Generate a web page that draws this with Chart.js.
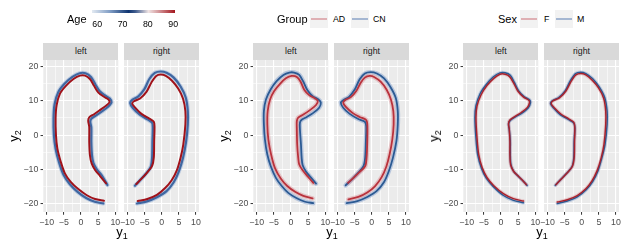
<!DOCTYPE html>
<html>
<head>
<meta charset="utf-8">
<script src="https://cdn.jsdelivr.net/npm/chart.js@4.4.1/dist/chart.umd.min.js"></script>
<style>
  body { margin: 0; background: #fff; font-family: "Liberation Sans", Arial, sans-serif; }
  #wrap { position: relative; width: 630px; height: 245px; overflow: hidden; }
  canvas { position: absolute; }
  .strip { position: absolute; top: 43px; height: 17px; background: #d9d9d9; color: #1a1a1a;
           font-size: 8.8px; line-height: 17px; text-align: center; }
  .ttl { position: absolute; font-size: 11px; line-height: 12px; color: #000; white-space: nowrap; }
  .ax { font-size: 13px; line-height: 14px; }
  .ax sub { font-size: 9px; vertical-align: -3px; line-height: 0; }
  .lab { position: absolute; font-size: 8.8px; line-height: 10px; color: #000; white-space: nowrap; }
  .key { position: absolute; top: 10px; width: 18px; height: 18px; background: #f2f2f2; }
  .key i { position: absolute; left: 1px; right: 1px; top: 8px; height: 2px; }
  .bar { position: absolute; left: 91.7px; top: 10.3px; width: 83.3px; height: 3.2px;
         background: linear-gradient(to right, #e3eaf2 0%, #7f9cc4 22%, #0e3470 44%, #3d5a8c 52%, #efe3e3 68%, #d59a9d 80%, #a3161d 100%); }
</style>
</head>
<body>
<div id="wrap"></div>
<script>
// axis ranges and ticks
const xMin = -10.99, xMax = 10.87;
const yMin = -22.5, yMax = 21.96;
const xTicks = [-10, -5, 0, 5, 10];
const xMinor = [-7.5, -2.5, 2.5, 7.5];
const yTicks = [-20, -10, 0, 10, 20];
const yMinor = [-15, -5, 5, 15];
const facets = ["left", "right"];
const ageTicks = [60, 70, 80, 90];

// Age panel: youngest (outer, blue) and oldest (inner, red) shapes
const ageYoungLeft = [[6.5,-20.0],[4.0,-19.5],[1.5,-18.4],[-1.0,-16.6],[-3.3,-14.3],[-5.1,-11.6],[-6.4,-8.0],[-7.4,-4.0],[-7.9,0],[-8.0,4.9],[-7.7,9.0],[-6.6,12.6],[-4.8,15.0],[-2.5,17.0],[-0.4,18.1],[1.3,18.1],[2.9,17.0],[4.2,14.8],[5.4,12.9],[7.0,11.6],[8.4,10.7],[8.9,9.6],[7.8,8.2],[5.9,6.8],[4.3,5.7],[3.0,4.8],[2.7,3.9],[3.0,2.2],[3.0,-2.0],[3.2,-5.9],[3.6,-8.1],[4.6,-10.0],[6.0,-11.7],[7.7,-14.6]];
const ageOldLeft = [[6.7,-19.2],[4.1,-18.7],[1.7,-17.6],[-0.8,-15.8],[-3.0,-13.7],[-4.7,-11.2],[-5.9,-7.8],[-6.9,-3.9],[-7.3,0],[-7.4,4.9],[-7.1,8.8],[-6.1,12.2],[-4.4,14.4],[-2.2,16.4],[-0.3,17.4],[1.2,17.4],[2.6,16.4],[3.8,14.4],[5.0,12.5],[6.7,11.2],[8.0,10.4],[8.3,9.6],[7.3,8.6],[5.5,7.3],[3.8,6.1],[2.4,5.2],[2.1,4.2],[2.4,2.4],[2.4,-2.0],[2.6,-5.9],[3.1,-8.3],[4.1,-10.2],[5.5,-11.9],[7.3,-14.1]];
const ageYoungRight = [[-7.2,-20.0],[-4.3,-19.4],[-1.4,-18.2],[1.4,-16.4],[3.5,-13.8],[5.0,-10.6],[6.2,-6.7],[7.1,-2.0],[7.6,3.1],[7.6,7.1],[7.0,11.0],[5.5,14.2],[3.5,16.8],[1.4,18.2],[-0.3,18.6],[-2.0,18.2],[-3.6,16.4],[-5.0,13.5],[-6.8,11.3],[-8.6,10.3],[-9.2,9.4],[-8.4,7.9],[-6.4,6.0],[-4.0,4.5],[-2.8,3.6],[-2.6,2.2],[-2.7,-1.8],[-2.8,-6.6],[-3.2,-9.3],[-4.6,-11.3],[-6.4,-13.3],[-7.8,-14.8]];
const ageOldRight = [[-7.0,-19.3],[-4.2,-18.7],[-1.4,-17.5],[1.0,-15.5],[2.9,-13.2],[4.4,-10.3],[5.5,-6.6],[6.3,-2.7],[6.9,3.1],[6.9,7.0],[6.2,10.7],[4.8,13.6],[3.0,15.9],[1.2,17.3],[-0.3,17.7],[-1.6,17.3],[-3.0,15.4],[-4.4,12.7],[-6.3,10.7],[-8.1,9.9],[-8.6,9.2],[-7.8,8.1],[-5.9,6.2],[-3.6,4.8],[-2.3,3.9],[-2.1,2.4],[-2.2,-1.8],[-2.3,-6.5],[-2.8,-9.0],[-4.2,-10.9],[-6.0,-12.9],[-7.4,-14.3]];

// Group panel
const cnLeft = [[6.5,-19.9],[4.1,-19.5],[1.7,-18.5],[-0.8,-16.9],[-2.7,-14.9],[-4.4,-12.5],[-5.9,-9.1],[-6.9,-5.7],[-7.6,-1.3],[-7.9,3.1],[-7.9,7.0],[-7.3,10.4],[-5.9,13.4],[-4.2,15.8],[-2.2,17.6],[-0.5,18.3],[0.9,18.3],[2.4,17.6],[3.6,15.6],[4.8,13.1],[6.3,11.4],[8.0,10.4],[8.7,9.5],[8.2,8.0],[6.5,6.5],[4.6,5.3],[3.1,4.5],[2.6,3.6],[2.6,1.7],[2.9,-2.7],[3.1,-6.6],[3.4,-8.8],[4.4,-10.7],[5.7,-12.3],[7.3,-14.2]];
const adLeft = [[6.3,-18.5],[3.6,-17.8],[1.2,-16.6],[-1.1,-14.9],[-3.0,-12.7],[-4.7,-9.6],[-5.8,-5.7],[-6.6,-1.3],[-6.9,3.1],[-6.8,7.0],[-6.1,10.4],[-4.9,12.9],[-3.2,15.0],[-1.5,16.6],[0.2,17.3],[1.7,17.0],[2.8,15.6],[3.9,13.2],[5.3,11.7],[7.0,10.7],[7.8,10.0],[7.3,8.8],[5.5,7.3],[3.6,6.0],[2.1,5.1],[1.7,4.1],[1.7,1.7],[1.8,-2.7],[2.1,-6.6],[2.4,-8.6],[3.4,-10.3],[4.8,-12.0],[6.5,-14.0]];
const cnRight = [[-7.3,-19.9],[-4.2,-19.3],[-1.3,-18.1],[1.4,-16.4],[3.6,-13.7],[5.0,-10.5],[6.2,-6.6],[7.2,-1.8],[7.6,3.1],[7.6,7.0],[7.0,10.9],[5.5,14.0],[3.6,16.6],[1.5,18.0],[-0.3,18.4],[-2.0,18.0],[-3.5,16.3],[-4.9,13.4],[-6.6,11.2],[-8.3,10.2],[-9.0,9.5],[-8.3,8.0],[-6.4,6.2],[-3.9,4.7],[-2.0,3.9],[-1.6,2.6],[-1.7,-1.8],[-1.9,-6.6],[-2.4,-9.1],[-3.9,-11.0],[-5.8,-13.0],[-7.6,-14.7]];
const adRight = [[-6.8,-18.8],[-3.9,-18.1],[-1.3,-16.8],[1.0,-14.9],[2.9,-12.3],[4.3,-9.1],[5.2,-5.7],[6.0,-1.3],[6.4,3.1],[6.3,7.0],[5.6,10.4],[4.4,13.2],[2.6,15.6],[0.7,17.0],[-0.6,17.3],[-2.0,16.8],[-3.2,15.3],[-4.5,12.9],[-6.1,11.1],[-7.8,10.2],[-8.3,9.5],[-7.6,8.3],[-5.6,6.5],[-3.5,5.3],[-1.7,4.5],[-1.3,3.4],[-1.3,-1.8],[-1.5,-6.6],[-1.9,-9.1],[-3.4,-10.7],[-5.3,-12.5],[-6.9,-14.0]];

// Sex panel
const fLeft = [[6.5,-19.3],[3.6,-18.6],[0.8,-17.2],[-2.1,-14.8],[-4.1,-12.4],[-5.5,-9.5],[-6.5,-5.7],[-7.0,-0.8],[-7.3,5.1],[-7.0,8.5],[-5.8,11.8],[-4.1,14.5],[-2.1,16.6],[-0.3,17.8],[1.2,17.8],[2.5,17.1],[3.7,15.2],[4.9,12.9],[6.6,11.1],[8.1,10.2],[8.3,9.5],[7.7,8.1],[5.9,6.6],[4.0,5.4],[2.6,4.4],[2.2,3.4],[2.4,1.7],[2.6,-1.8],[2.6,-5.7],[2.8,-8.6],[3.6,-10.5],[5.0,-12.0],[6.5,-13.5],[7.4,-14.5]];
const mLeft = [[6.5,-19.8],[3.6,-19.1],[0.6,-17.6],[-2.3,-15.0],[-4.3,-12.6],[-5.7,-9.7],[-6.8,-5.7],[-7.3,-0.8],[-7.6,5.1],[-7.3,8.6],[-6.1,12.1],[-4.3,14.8],[-2.3,17.0],[-0.3,18.2],[1.2,18.2],[2.7,17.5],[3.9,15.4],[5.1,13.0],[6.8,11.2],[8.3,10.3],[8.6,9.5],[7.9,7.9],[6.1,6.4],[4.2,5.3],[2.7,4.3],[2.2,3.3],[2.4,1.7],[2.7,-1.8],[2.7,-5.7],[2.9,-8.7],[3.7,-10.6],[5.1,-12.1],[6.6,-13.6],[7.6,-14.7]];
const fRight = [[-7.1,-19.6],[-4.2,-18.9],[-1.3,-17.7],[1.2,-15.7],[3.0,-13.4],[4.5,-10.4],[5.7,-6.6],[6.5,-2.7],[7.0,3.1],[7.0,7.0],[6.4,10.8],[4.9,13.8],[3.0,16.1],[1.2,17.6],[-0.3,18.0],[-1.7,17.6],[-3.1,15.7],[-4.6,12.9],[-6.5,10.9],[-8.4,10.0],[-8.9,9.2],[-8.0,8.0],[-6.0,6.1],[-3.7,4.7],[-2.3,3.7],[-2.0,2.1],[-2.1,-1.8],[-2.2,-6.6],[-2.7,-9.1],[-4.2,-11.0],[-6.1,-13.0],[-7.5,-14.5]];
const mRight = [[-7.1,-20.0],[-4.2,-19.3],[-1.3,-18.1],[1.3,-16.0],[3.2,-13.6],[4.7,-10.6],[5.9,-6.6],[6.8,-2.7],[7.4,3.1],[7.4,7.0],[6.7,11.0],[5.1,14.1],[3.2,16.5],[1.2,18.0],[-0.3,18.4],[-1.8,18.0],[-3.3,15.9],[-4.8,13.0],[-6.7,11.0],[-8.6,10.0],[-9.1,9.2],[-8.2,7.9],[-6.2,5.9],[-3.8,4.5],[-2.3,3.5],[-2.0,2.1],[-2.2,-1.8],[-2.3,-6.6],[-2.8,-9.2],[-4.3,-11.1],[-6.2,-13.1],[-7.7,-14.7]];

const FONT = '"Liberation Sans", Arial, sans-serif';
Chart.defaults.font.family = FONT;

const wrap = document.getElementById("wrap");

function el(tag, cls, css, html) {
    const d = document.createElement(tag);
    if (cls) d.className = cls;
    if (css) d.style.cssText = css;
    if (html !== undefined) d.innerHTML = html;
    wrap.appendChild(d);
    return d;
}

// grey panel background
const panelBg = {
    id: "panelBg",
    beforeDraw(chart) {
        const { ctx, chartArea: a } = chart;
        ctx.save();
        ctx.fillStyle = "#ebebeb";
        ctx.fillRect(a.left, a.top, a.right - a.left, a.bottom - a.top);
        ctx.restore();
    }
};

function line(pts, color, width, order) {
    return {
        data: pts.map(([x, y]) => ({ x, y })),
        showLine: true,
        borderColor: color,
        borderWidth: width,
        pointRadius: 0,
        tension: 0.3,
        order: order,
        borderJoinStyle: "round",
        borderCapStyle: "round"
    };
}

const fmt = (v) => String(v).replace("-", "\u2212");

function facetChart(left, width, yAxisW, padRight, sets, showY) {
    const cv = el("canvas", null, `left:${left}px;top:60px;`);
    cv.width = width;
    cv.height = 185;
    new Chart(cv, {
        type: "scatter",
        data: { datasets: sets },
        options: {
            responsive: false,
            animation: false,
            devicePixelRatio: 1,
            layout: { padding: { left: 0, right: padRight, top: 0, bottom: 0 } },
            plugins: { legend: { display: false }, tooltip: { enabled: false } },
            scales: {
                x: {
                    type: "linear",
                    min: xMin,
                    max: xMax,
                    afterBuildTicks: (s) => { s.ticks = xTicks.concat(xMinor).sort((a, b) => a - b).map((v) => ({ value: v })); },
                    afterFit: (s) => { s.height = 33; s.paddingLeft = 0; s.paddingRight = 0; },
                    ticks: {
                        autoSkip: false, maxRotation: 0, padding: 2.2, color: "#4d4d4d",
                        font: { size: 8.8 },
                        callback: (v) => xTicks.includes(v) ? fmt(v) : ""
                    },
                    grid: {
                        color: "#ffffff",
                        lineWidth: (c) => c.tick && xTicks.includes(c.tick.value) ? 1.1 : 0.55,
                        drawTicks: true,
                        tickLength: 2.75,
                        tickWidth: 1,
                        tickColor: (c) => c.tick && xTicks.includes(c.tick.value) ? "#333333" : "rgba(0,0,0,0)"
                    },
                    border: { display: false }
                },
                y: {
                    type: "linear",
                    min: yMin,
                    max: yMax,
                    afterBuildTicks: (s) => { s.ticks = yTicks.concat(yMinor).sort((a, b) => a - b).map((v) => ({ value: v })); },
                    afterFit: (s) => { s.width = yAxisW; s.paddingTop = 0; s.paddingBottom = 0; },
                    ticks: {
                        display: showY, autoSkip: false, padding: 2.2, color: "#4d4d4d",
                        font: { size: 8.8 },
                        callback: (v) => yTicks.includes(v) ? fmt(v) : ""
                    },
                    grid: {
                        color: "#ffffff",
                        lineWidth: (c) => c.tick && yTicks.includes(c.tick.value) ? 1.1 : 0.55,
                        drawTicks: showY,
                        tickLength: 2.75,
                        tickWidth: 1,
                        tickColor: (c) => c.tick && yTicks.includes(c.tick.value) ? "#333333" : "rgba(0,0,0,0)"
                    },
                    border: { display: false }
                }
            }
        },
        plugins: [panelBg]
    });
}

function panel(p, leftSets, rightSets) {
    const ox = 210 * p;
    // strips
    el("div", "strip", `left:${ox + 43.3}px;width:75px;`, facets[0]);
    el("div", "strip", `left:${ox + 124}px;width:75px;`, facets[1]);
    facetChart(ox, 126, 43.3, 7.7, leftSets, true);
    facetChart(ox + 110, 96, 14, 7, rightSets, false);
    // axis titles
    el("div", "ttl ax", `left:${ox + 122}px;top:225px;transform:translateX(-50%);`, "y<sub>1</sub>");
    el("div", "ttl ax", `left:${ox + 14}px;top:136px;transform:translate(-50%,-50%) rotate(-90deg);`, "y<sub>2</sub>");
}

// Age panel
panel(0,
    [line(ageYoungLeft, "rgba(165,188,220,0.7)", 4.2, 5), line(ageYoungLeft, "#3f67a1", 2.2, 4), line(ageOldLeft, "#a0121a", 2, 0)],
    [line(ageYoungRight, "rgba(165,188,220,0.7)", 4.2, 5), line(ageYoungRight, "#3f67a1", 2.2, 4), line(ageOldRight, "#a0121a", 2, 0)]);

// Group panel
panel(1,
    [line(cnLeft, "rgba(130,160,205,0.5)", 4.5, 5), line(adLeft, "rgba(220,150,155,0.5)", 4.5, 4),
     line(cnLeft, "#2b5a93", 1.8, 1), line(adLeft, "#b9323c", 1.8, 0)],
    [line(cnRight, "rgba(130,160,205,0.5)", 4.5, 5), line(adRight, "rgba(220,150,155,0.5)", 4.5, 4),
     line(cnRight, "#2b5a93", 1.8, 1), line(adRight, "#b9323c", 1.8, 0)]);

// Sex panel
panel(2,
    [line(mLeft, "rgba(130,160,205,0.45)", 3.5, 5), line(fLeft, "rgba(220,150,155,0.45)", 3.5, 4),
     line(mLeft, "#2b5a93", 1.5, 1), line(fLeft, "#a8222c", 1.5, 0)],
    [line(mRight, "rgba(130,160,205,0.45)", 3.5, 5), line(fRight, "rgba(220,150,155,0.45)", 3.5, 4),
     line(mRight, "#2b5a93", 1.5, 1), line(fRight, "#a8222c", 1.5, 0)]);

// legends
el("div", "ttl", "left:67px;top:13px;", "Age");
el("div", "bar", "");
ageTicks.forEach((a) => {
    const x = 91.7 + (a - 57.8) * 2.53;
    el("div", "lab", `left:${x}px;top:18.5px;transform:translateX(-50%);`, String(a));
});

el("div", "ttl", "left:277px;top:13px;", "Group");
el("div", "key", "left:310px;", '<i style="background:rgba(200,95,105,0.45)"></i>');
el("div", "lab", "left:333px;top:14px;", "AD");
el("div", "key", "left:350.5px;", '<i style="background:rgba(70,110,170,0.45)"></i>');
el("div", "lab", "left:373px;top:14px;", "CN");

el("div", "ttl", "left:498px;top:13px;", "Sex");
el("div", "key", "left:520px;", '<i style="background:rgba(200,95,105,0.45)"></i>');
el("div", "lab", "left:544px;top:14px;", "F");
el("div", "key", "left:554.5px;", '<i style="background:rgba(70,110,170,0.45)"></i>');
el("div", "lab", "left:577px;top:14px;", "M");
</script>
</body>
</html>
